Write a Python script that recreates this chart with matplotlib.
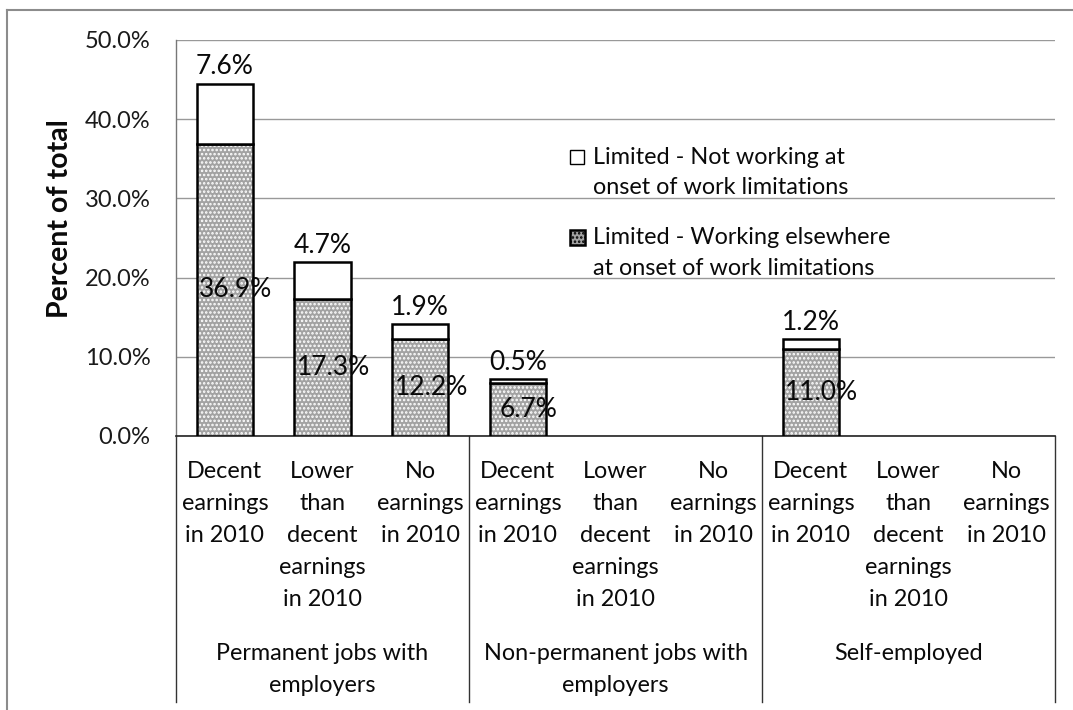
import matplotlib.pyplot as plt
from matplotlib.patches import Rectangle
from matplotlib.lines import Line2D
from matplotlib.transforms import blended_transform_factory

plt.rcParams["font.family"] = ["Lato", "DejaVu Sans"]
plt.rcParams["hatch.linewidth"] = 1.2

# 数据
sub_labels = ["Decent\nearnings\nin 2010", "Lower\nthan\ndecent\nearnings\nin 2010", "No\nearnings\nin 2010"] * 3
group_labels = ["Permanent jobs with\nemployers", "Non-permanent jobs with\nemployers", "Self-employed"]
working_elsewhere = [36.9, 17.3, 12.2, 6.7, 0, 0, 11.0, 0, 0]
not_working = [7.6, 4.7, 1.9, 0.5, 0, 0, 1.2, 0, 0]
series_names = ["Limited - Not working at\nonset of work limitations",
                "Limited - Working elsewhere\nat onset of work limitations"]
y_ticks = [0, 10, 20, 30, 40, 50]

W, H = 1073, 710
fig = plt.figure(figsize=(W / 100, H / 100), dpi=100)


def fx(px):
    return px / W


def fy(py):
    return 1 - py / H


ax = fig.add_axes([fx(176), fy(436), fx(1055) - fx(176), fy(40) - fy(436)])

grey = "#a2a2a2"
txt = "#0a0a0a"
bw = 0.58
for i in range(len(working_elsewhere)):
    low = working_elsewhere[i]
    top = not_working[i]
    if low == 0 and top == 0:
        continue
    # 底层 带点状填充
    ax.bar(i, low, width=bw, color=grey, edgecolor="white", hatch="....", linewidth=0, zorder=3)
    ax.bar(i, low, width=bw, fill=False, edgecolor="black", linewidth=1.8, zorder=4)
    ax.bar(i, top, width=bw, bottom=low, color="white", edgecolor="black", linewidth=1.8, zorder=4)
    ax.annotate("{:.1f}%".format(low), (i, low / 2), xytext=(8, 0), textcoords="offset points",
                ha="center", va="center", fontsize=19, color=txt, zorder=5)
    ax.annotate("{:.1f}%".format(top), (i, low + top), xytext=(0, 12), textcoords="offset points",
                ha="center", va="center", fontsize=19, color=txt, zorder=5)

ax.set_xlim(-0.5, 8.5)
ax.set_ylim(0, 50)
ax.set_yticks(y_ticks)
ax.set_yticklabels(["{:.1f}%".format(v) for v in y_ticks], fontsize=17, color="#1a1a1a")
ax.tick_params(axis="y", length=0, pad=18.5)
ax.set_xticks([])
ax.grid(axis="y", color="#999999", linewidth=1.0, zorder=0)
for s in ["top", "right"]:
    ax.spines[s].set_visible(False)
ax.spines["left"].set_color("#777777")
ax.spines["left"].set_linewidth(1.0)
ax.spines["bottom"].set_color("#222222")
ax.spines["bottom"].set_linewidth(1.2)
ax.set_ylabel("Percent of total", fontsize=20.5, fontweight="bold", color=txt)
ax.yaxis.set_label_coords(fx(73), fy(219), transform=fig.transFigure)

# 分类标签 逐行放置
tr = blended_transform_factory(ax.transData, fig.transFigure)
for i, lab in enumerate(sub_labels):
    for k, line in enumerate(lab.split("\n")):
        ax.text(i, fy(471 + 32 * k), line, transform=tr, ha="center", va="center",
                fontsize=16.8, color=txt)
for g, lab in enumerate(group_labels):
    for k, line in enumerate(lab.split("\n")):
        ax.text(3 * g + 1, fy(653 + 32 * k), line, transform=tr, ha="center", va="center",
                fontsize=16.8, color=txt)
for xs in [-0.5, 2.5, 5.5, 8.5]:
    ax.add_line(Line2D([xs, xs], [fy(436), fy(702)], transform=tr, color="#333333",
                       linewidth=1.0, clip_on=False))

# 图例
fig.patches.append(Rectangle((fx(570), fy(164)), fx(14), 14 / H, transform=fig.transFigure,
                             facecolor="white", edgecolor="black", linewidth=1.0))
fig.patches.append(Rectangle((fx(570), fy(245)), fx(15), 15 / H, transform=fig.transFigure,
                             facecolor=grey, edgecolor="black", linewidth=1.8, hatch="...."))
for k, name in enumerate(series_names):
    y0 = [157, 238][k]
    for j, line in enumerate(name.split("\n")):
        fig.text(fx(593), fy(y0 + 31 * j), line, ha="left", va="center", fontsize=16.8,
                 color=txt)

# 外框
fig.add_artist(Line2D([fx(7), fx(7)], [0, fy(10)], color="#8c8c8c", linewidth=1.5))
fig.add_artist(Line2D([fx(7), 1], [fy(10), fy(10)], color="#8c8c8c", linewidth=1.5))

fig.savefig("out.png", dpi=100)
